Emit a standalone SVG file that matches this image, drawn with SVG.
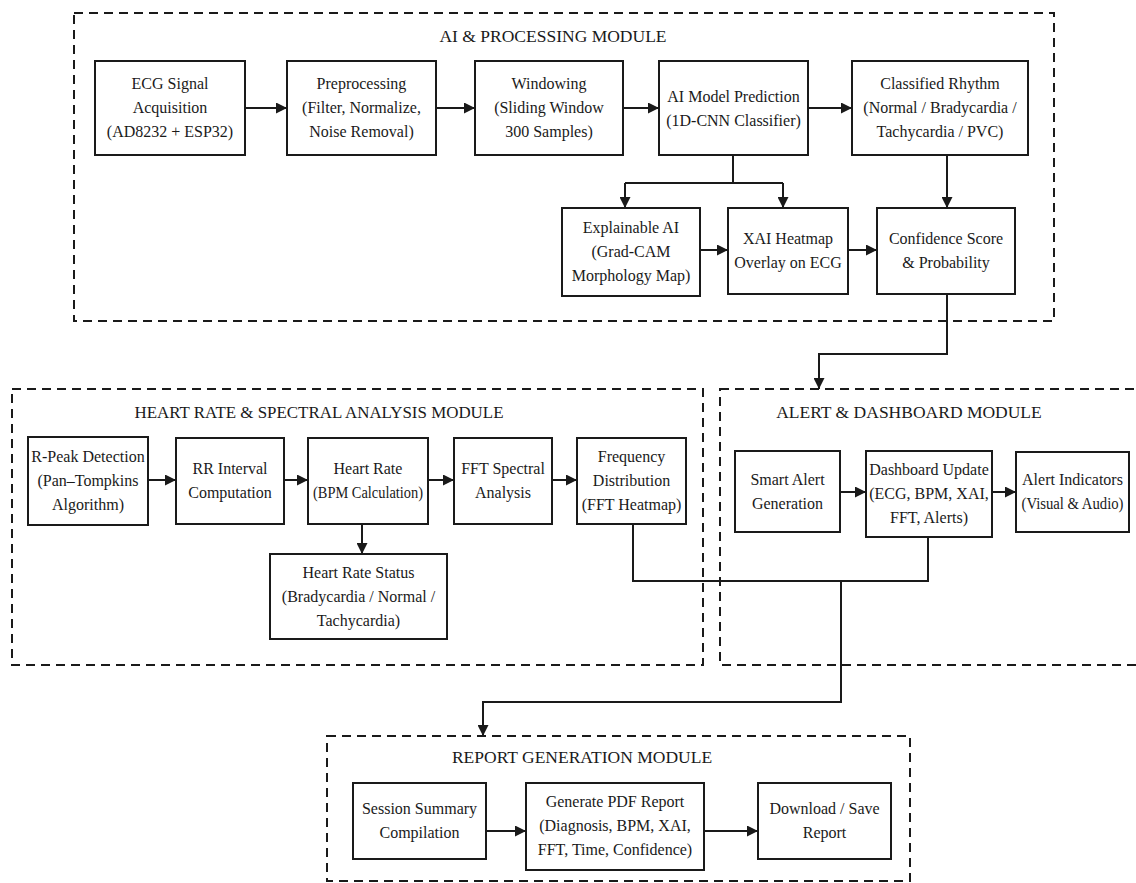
<svg xmlns="http://www.w3.org/2000/svg" width="1136" height="883" viewBox="0 0 1136 883">
<style>
.bg{fill:#ffffff}
.mod{fill:none;stroke:#1a1a1a;stroke-width:2;stroke-dasharray:9 6}
.box{fill:#ffffff;stroke:#1a1a1a;stroke-width:2}
.t{font-family:"Liberation Serif","Times New Roman",serif;font-size:16px;fill:#1a1a1a;text-anchor:middle}
.title{font-family:"Liberation Serif","Times New Roman",serif;font-size:17.5px;fill:#1a1a1a;text-anchor:middle}
.c{fill:none;stroke:#1a1a1a;stroke-width:2}
.ca{fill:none;stroke:#1a1a1a;stroke-width:2;marker-end:url(#ah)}
</style>
<defs>
<marker id="ah" viewBox="0 0 10 10" markerUnits="userSpaceOnUse" markerWidth="11" markerHeight="11" refX="10" refY="5" orient="auto">
<path d="M0,0 L10,5 L0,10 z" fill="#1a1a1a"/>
</marker>
</defs>
<rect class="bg" x="0" y="0" width="1136" height="883"/>

<g id="modules">
<g id="mod-ai"><rect class="mod" x="74" y="13" width="980" height="308"/><text class="title" x="553" y="42">AI &amp; PROCESSING MODULE</text></g>
<g id="mod-hr"><rect class="mod" x="12" y="389" width="691" height="276"/><text class="title" x="319" y="418" textLength="369" lengthAdjust="spacingAndGlyphs">HEART RATE &amp; SPECTRAL ANALYSIS MODULE</text></g>
<g id="mod-alert"><rect class="mod" x="720" y="389" width="430" height="276"/><text class="title" x="909" y="418">ALERT &amp; DASHBOARD MODULE</text></g>
<g id="mod-report"><rect class="mod" x="327" y="736" width="583" height="145"/><text class="title" x="582" y="763">REPORT GENERATION MODULE</text></g>
</g>

<g id="connectors">
<path class="ca" d="M245,108 H287"/>
<path class="ca" d="M436,108 H475"/>
<path class="ca" d="M623,108 H659"/>
<path class="ca" d="M808,108 H852"/>
<path class="c" d="M733,155 V183 M625,183 H783"/>
<path class="ca" d="M625,183 V208"/>
<path class="ca" d="M783,183 V208"/>
<path class="ca" d="M947,155 V208"/>
<path class="ca" d="M700,250 H728"/>
<path class="ca" d="M848,250 H877"/>
<path class="ca" d="M947,294 V354 H819 V389"/>
<path class="ca" d="M148,480 H176"/>
<path class="ca" d="M284,480 H308"/>
<path class="ca" d="M428,480 H454"/>
<path class="ca" d="M552,480 H577"/>
<path class="ca" d="M362,524 V554"/>
<path class="ca" d="M840,492 H866"/>
<path class="ca" d="M992,492 H1016"/>
<path class="c" d="M633,524 V581 H928 V537"/>
<path class="ca" d="M841,581 V702 H483 V736"/>
<path class="ca" d="M486,831 H526"/>
<path class="ca" d="M704,831 H758"/>
</g>

<g id="n-ecg"><rect class="box" x="95" y="61" width="150" height="94"/><text class="t" x="170" y="89">ECG Signal</text><text class="t" x="170" y="113">Acquisition</text><text class="t" x="170" y="137">(AD8232 + ESP32)</text></g>
<g id="n-prep"><rect class="box" x="287" y="61" width="149" height="94"/><text class="t" x="361.5" y="89">Preprocessing</text><text class="t" x="361.5" y="113">(Filter, Normalize,</text><text class="t" x="361.5" y="137">Noise Removal)</text></g>
<g id="n-win"><rect class="box" x="475" y="61" width="148" height="94"/><text class="t" x="549" y="89">Windowing</text><text class="t" x="549" y="113">(Sliding Window</text><text class="t" x="549" y="137">300 Samples)</text></g>
<g id="n-ai"><rect class="box" x="659" y="61" width="149" height="94"/><text class="t" x="733.5" y="102">AI Model Prediction</text><text class="t" x="733.5" y="126">(1D-CNN Classifier)</text></g>
<g id="n-class"><rect class="box" x="852" y="61" width="176" height="94"/><text class="t" x="940" y="89">Classified Rhythm</text><text class="t" x="940" y="113">(Normal / Bradycardia /</text><text class="t" x="940" y="137">Tachycardia / PVC)</text></g>
<g id="n-xai"><rect class="box" x="562" y="208" width="138" height="88"/><text class="t" x="631" y="233">Explainable AI</text><text class="t" x="631" y="257">(Grad-CAM</text><text class="t" x="631" y="281">Morphology Map)</text></g>
<g id="n-heat"><rect class="box" x="728" y="208" width="120" height="86"/><text class="t" x="788" y="244">XAI Heatmap</text><text class="t" x="788" y="268">Overlay on ECG</text></g>
<g id="n-conf"><rect class="box" x="877" y="208" width="138" height="86"/><text class="t" x="946" y="244">Confidence Score</text><text class="t" x="946" y="268">&amp; Probability</text></g>

<g id="n-rpeak"><rect class="box" x="28" y="437" width="120" height="88"/><text class="t" x="88" y="462">R-Peak Detection</text><text class="t" x="88" y="486">(Pan–Tompkins</text><text class="t" x="88" y="510">Algorithm)</text></g>
<g id="n-rr"><rect class="box" x="176" y="438" width="108" height="86"/><text class="t" x="230" y="474">RR Interval</text><text class="t" x="230" y="498">Computation</text></g>
<g id="n-hr"><rect class="box" x="308" y="438" width="120" height="86"/><text class="t" x="368" y="474">Heart Rate</text><text class="t" x="368" y="498" textLength="110" lengthAdjust="spacingAndGlyphs">(BPM Calculation)</text></g>
<g id="n-fft"><rect class="box" x="454" y="438" width="98" height="86"/><text class="t" x="503" y="474">FFT Spectral</text><text class="t" x="503" y="498">Analysis</text></g>
<g id="n-freq"><rect class="box" x="577" y="438" width="109" height="86"/><text class="t" x="631.5" y="462">Frequency</text><text class="t" x="631.5" y="486">Distribution</text><text class="t" x="631.5" y="510">(FFT Heatmap)</text></g>
<g id="n-hrs"><rect class="box" x="270" y="554" width="177" height="85"/><text class="t" x="358.5" y="578">Heart Rate Status</text><text class="t" x="358.5" y="602">(Bradycardia / Normal /</text><text class="t" x="358.5" y="626">Tachycardia)</text></g>

<g id="n-smart"><rect class="box" x="735" y="451" width="105" height="81"/><text class="t" x="787.5" y="485">Smart Alert</text><text class="t" x="787.5" y="509">Generation</text></g>
<g id="n-dash"><rect class="box" x="866" y="451" width="126" height="86"/><text class="t" x="929" y="475">Dashboard Update</text><text class="t" x="929" y="499">(ECG, BPM, XAI,</text><text class="t" x="929" y="523">FFT, Alerts)</text></g>
<g id="n-ind"><rect class="box" x="1016" y="452" width="113" height="80"/><text class="t" x="1072.5" y="485">Alert Indicators</text><text class="t" x="1072.5" y="509" textLength="102" lengthAdjust="spacingAndGlyphs">(Visual &amp; Audio)</text></g>

<g id="n-session"><rect class="box" x="353" y="783" width="133" height="76"/><text class="t" x="419.5" y="814">Session Summary</text><text class="t" x="419.5" y="838">Compilation</text></g>
<g id="n-pdf"><rect class="box" x="526" y="783" width="178" height="87"/><text class="t" x="615" y="807">Generate PDF Report</text><text class="t" x="615" y="831">(Diagnosis, BPM, XAI,</text><text class="t" x="615" y="855">FFT, Time, Confidence)</text></g>
<g id="n-dl"><rect class="box" x="758" y="783" width="133" height="76"/><text class="t" x="824.5" y="814">Download / Save</text><text class="t" x="824.5" y="838">Report</text></g>
</svg>
